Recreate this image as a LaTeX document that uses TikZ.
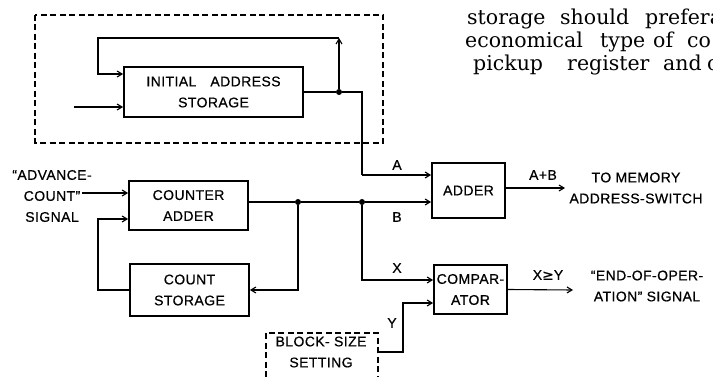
\documentclass[tikz,border=0pt]{standalone}
\usepackage{fontspec}
\newfontfamily\lettering[LetterSpace=3,FakeBold=0.6]{Liberation Sans}
\newfontfamily\symbolfont[FakeBold=0.6]{DejaVu Sans}
\newfontfamily\bookfont{DejaVu Serif}
\usetikzlibrary{arrows.meta,positioning}

\begin{document}
\begin{tikzpicture}[
  x=1pt, y=-1pt,
  font=\lettering\fontsize{14}{21}\selectfont,
  box/.style={draw, line width=1.8pt, align=center, inner sep=0pt},
  dashbox/.style={draw, line width=1.8pt, dash pattern=on 6pt off 3.5pt},
  wire/.style={line width=1.1pt},
  arrow/.style={wire, -{Straight Barb[length=5pt,width=6pt]}},
  junction/.style={circle, fill, inner sep=0pt, minimum size=6pt},
  lbl/.style={inner sep=1pt, align=center},
  body/.style={font=\bookfont\fontsize{20.5}{22}\selectfont, anchor=base west, inner sep=0pt}
]
\clip (0,0) rectangle (713,377);

% Page text running past the figure
\foreach \word/\xpos in {storage/467, should/560, prefera/645}
  \node[body] (ln1-\xpos) at (\xpos,25) {\word};
\foreach \word/\xpos in {economical/465, type/600, of/653, co/687}
  \node[body] (ln2-\xpos) at (\xpos,48) {\word};
\foreach \word/\xpos in {pickup/473, register/567, and/663, c/707}
  \node[body] (ln3-\xpos) at (\xpos,71) {\word};

% Initial address part
\draw[dashbox] (35,15) rectangle (383,143);
\node[box, minimum width=179pt, minimum height=50pt] (ias) at (213.5,92) {INITIAL\quad ADDRESS\\STORAGE};
\node[junction] (dot1) at (339,92) {};
\coordinate (loopr) at (339,38);
\coordinate (loopl) at (98,38);
\coordinate (iasin) at (74,107);
\coordinate (aturn) at (362,175);

% Counter part
\node[box, minimum width=119pt, minimum height=49pt] (cadd) at (188.5,205.5) {COUNTER\\ADDER};
\node[box, minimum width=119pt, minimum height=52pt] (cst) at (189.5,290) {COUNT\\STORAGE};
\node[lbl] (adv) at (52,196) {“ADVANCE-\\COUNT”\\SIGNAL};
\node[junction] (dot2) at (298,202) {};
\coordinate (advin) at (82,193);
\coordinate (fbl) at (98,219);

% Adder and comparator
\node[box, minimum width=73pt, minimum height=55pt] (adder) at (468.5,190.5) {ADDER};
\node[box, minimum width=73pt, minimum height=49pt] (cmp) at (470.5,289.5) {COMPAR-\\ATOR};
\node[junction] (dot3) at (362,202) {};
\coordinate (xturn) at (362,280);
\coordinate (yup) at (403,303);
\coordinate (ydown) at (403,352);
\coordinate (sumout) at (565,188);
\coordinate (cmpout) at (573,290);

% Block size
\node[dashbox, minimum width=112pt, minimum height=70pt, anchor=north west] (blk) at (265,332) {};
\node[lbl] (blktext) at (321,352) {BLOCK- SIZE\\SETTING};

% Connections
\draw[arrow] (iasin) -- (iasin -| ias.west);
\draw[wire] (ias.east) -- (dot1) -- (dot1 -| aturn) -- (aturn);
\draw[arrow] (dot1) -- (loopr);
\draw[arrow] (loopr) -- (loopl) |- ([yshift=18pt]ias.west);
\draw[arrow] (aturn) -- (aturn -| adder.west);

\draw[arrow] (advin) -- (advin -| cadd.west);
\draw[wire] (dot2 -| cadd.east) -- (dot2) -- (dot3);
\draw[arrow] (dot3) -- (dot3 -| adder.west);
\draw[arrow] (dot2) |- (cst.east);
\draw[arrow] (cst.west) -| (fbl) -- (fbl -| cadd.west);

\draw[arrow] (dot3) -- (xturn) -- (xturn -| cmp.west);
\draw[arrow] (ydown -| blk.east) -- (ydown) -- (yup) -- (yup -| cmp.west);
\draw[arrow] (sumout -| adder.east) -- (sumout);
\draw[arrow] (cmp.east) -- (cmpout);

% Signal labels
\node[lbl] (la) at (397,165) {A};
\node[lbl] (lb) at (397,217) {B};
\node[lbl] (lx) at (397,268) {X};
\node[lbl] (ly) at (392,323) {Y};
\node[lbl] (lsum) at (543,175) {A+B};
\node[lbl] (lgeq) at (548,275) {X{\symbolfont\fontsize{14}{14}\selectfont ≥}Y};
\node[lbl] (tomem) at (636,188) {TO MEMORY\\ADDRESS-SWITCH};
\node[lbl] (endop) at (647,286) {“END-OF-OPER-\\ATION” SIGNAL};
\end{tikzpicture}
\end{document}
